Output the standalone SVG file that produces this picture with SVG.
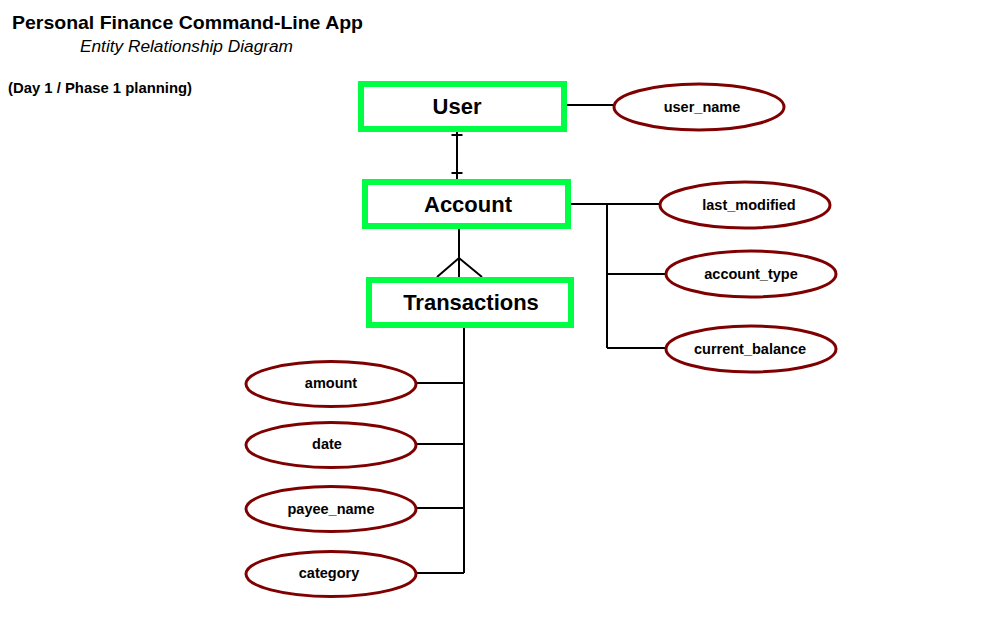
<svg xmlns="http://www.w3.org/2000/svg" width="994" height="629" viewBox="0 0 994 629">
<style>
.ent{fill:#fff;stroke:#0f4;stroke-width:6}
.att{fill:#fff;stroke:#7f0000;stroke-width:3}
.ln{fill:none;stroke:#000;stroke-width:2}
.et{font-family:"Liberation Sans",Arial,sans-serif;font-weight:bold;font-size:22px;text-anchor:middle;fill:#000}
.at{font-family:"Liberation Sans",Arial,sans-serif;font-weight:bold;font-size:14.5px;text-anchor:middle;fill:#000}
.ti{font-family:"Liberation Sans",Arial,sans-serif;fill:#000}
</style>
<rect width="994" height="629" fill="#fff"/>
<text class="ti" x="12" y="29" font-size="19" font-weight="bold" textLength="351" lengthAdjust="spacingAndGlyphs">Personal Finance Command-Line App</text>
<text class="ti" x="80" y="52" font-size="16" font-style="italic" textLength="213" lengthAdjust="spacingAndGlyphs">Entity Relationship Diagram</text>
<text class="ti" x="8" y="93" font-size="14" font-weight="bold" textLength="184" lengthAdjust="spacingAndGlyphs">(Day 1 / Phase 1 planning)</text>
<g id="connectors">
<path class="ln" d="M457,131V179M451.5,135H462.5M451.5,173H462.5"/>
<path class="ln" d="M459,229V277M437,277L459,258L482,277"/>
<path class="ln" d="M464,328V573M417,383H464M417,444H464M417,508H464M417,573H464"/>
<path class="ln" d="M567,105H614"/>
<path class="ln" d="M571,204H660M607,204V348M607,274H666M607,348H666"/>
</g>
<g id="user"><rect class="ent" x="361" y="84" width="203" height="45"/><text class="et" x="457" y="114">User</text></g>
<g id="account"><rect class="ent" x="365" y="182" width="203" height="44"/><text class="et" x="468" y="212">Account</text></g>
<g id="transactions"><rect class="ent" x="369" y="280" width="202" height="45"/><text class="et" x="471" y="310">Transactions</text></g>
<g id="user_name"><ellipse class="att" cx="699" cy="107" rx="85" ry="23"/><text class="at" x="702" y="112">user_name</text></g>
<g id="last_modified"><ellipse class="att" cx="745" cy="205" rx="85" ry="23"/><text class="at" x="749" y="210">last_modified</text></g>
<g id="account_type"><ellipse class="att" cx="751" cy="274" rx="85" ry="23"/><text class="at" x="751" y="279">account_type</text></g>
<g id="current_balance"><ellipse class="att" cx="751" cy="349" rx="85" ry="23"/><text class="at" x="750" y="354">current_balance</text></g>
<g id="amount"><ellipse class="att" cx="331" cy="384" rx="85" ry="22.5"/><text class="at" x="331" y="388">amount</text></g>
<g id="date"><ellipse class="att" cx="331" cy="445" rx="85" ry="22.5"/><text class="at" x="327" y="449">date</text></g>
<g id="payee_name"><ellipse class="att" cx="331" cy="509" rx="85" ry="22.5"/><text class="at" x="331" y="514">payee_name</text></g>
<g id="category"><ellipse class="att" cx="331" cy="574" rx="85" ry="22.5"/><text class="at" x="329" y="578">category</text></g>
</svg>
